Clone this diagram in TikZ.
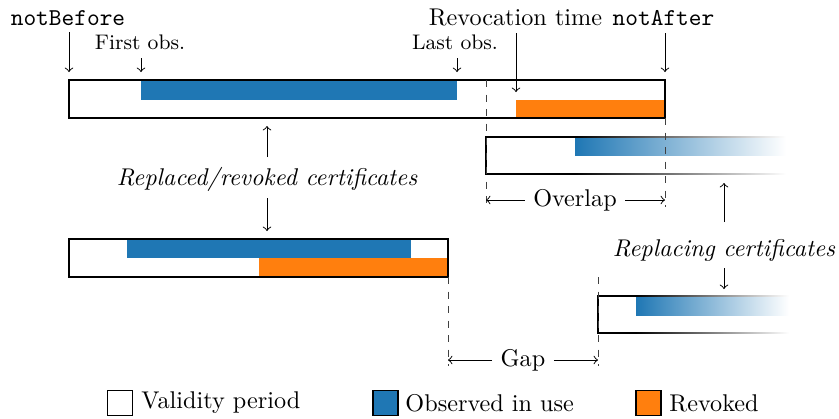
\documentclass[tikz,border=0pt]{standalone}
\definecolor{obsblue}{HTML}{1F77B4}
\definecolor{revorange}{HTML}{FF7F0E}
\begin{document}
\begin{tikzpicture}[x=0.413pt,y=-0.413pt,
  arr/.style={->, line width=0.4pt},
  period/.style={draw=black, line width=0.45pt},
  edge/.style={line width=0.45pt},
  gapline/.style={dashed, line width=0.4pt, black!75},
  lbl/.style={font=\normalsize},
  small/.style={inner sep=0pt, font=\fontsize{8.7}{10}\selectfont},
  legendbox/.style={draw=black, line width=0.45pt, minimum width=25*0.413pt, minimum height=25*0.413pt, inner sep=0pt},
]
\useasboundingbox (0,0) rectangle (839,418);

% ---- replaced certificate (overlap case) ----
\fill[obsblue] (141,80) rectangle (457,99.5);
\fill[revorange] (516,99.5) rectangle (665,118);
\draw[period] (69,80) rectangle (665,118);
\coordinate (c1a) at (486,80);
\coordinate (c1b) at (665,118);

% labels and pointers above it
\node[anchor=base, inner sep=0pt] (nb) at (68,25) {\texttt{notBefore}};
\node[anchor=base, inner sep=0pt] (rt) at (515.5,25) {Revocation time};
\node[anchor=base, inner sep=0pt] (na) at (663.5,25) {\texttt{notAfter}};
\node[small, anchor=base] (fo) at (140,49) {First obs.};
\node[small, anchor=base] (lo) at (455,49) {Last obs.};
\coordinate (nbt) at (69,72);
\coordinate (rtt) at (516,92);
\coordinate (nat) at (665,72);
\coordinate (fot) at (141,72);
\coordinate (lot) at (457,72);
\draw[arr] (69,32) -- (nbt);
\draw[arr] (516,33) -- (rtt);
\draw[arr] (665,33) -- (nat);
\draw[arr] (141,58) -- (fot);
\draw[arr] (457,58) -- (lot);

% ---- replacing certificate (overlap case), fading out to the right ----
\shade[left color=obsblue, right color=white] (575,137) rectangle (786,155.5);
\draw[edge] (575,137) -- (486,137) -- (486,174) -- (575,174);
\shade[left color=black, right color=white] (575,136.45) rectangle (786,137.55);
\shade[left color=black, right color=white] (575,173.45) rectangle (786,174.55);

% overlap marker
\draw[gapline] (c1a) -- (486,207);
\draw[gapline] (c1b) -- (665,207);
\node[lbl] (ov) at (575,200) {Overlap};
\draw[arr] (ov.west) -- (486,200);
\draw[arr] (ov.east) -- (665,200);

% ---- replaced certificate (gap case) ----
\fill[obsblue] (127,239) rectangle (411,258);
\fill[revorange] (259,258) rectangle (448,277);
\draw[period] (69,239) rectangle (448,277);

% ---- replacing certificate (gap case) ----
\shade[left color=obsblue, right color=white] (636,296) rectangle (789,315);
\draw[edge] (636,296) -- (598,296) -- (598,333) -- (636,333);
\shade[left color=black, right color=white] (636,295.45) rectangle (789,296.55);
\shade[left color=black, right color=white] (636,332.45) rectangle (789,333.55);

% gap marker
\draw[gapline] (448,277) -- (448,366);
\draw[gapline] (598,277) -- (598,366);
\node[lbl] (gp) at (523,360) {Gap};
\draw[arr] (gp.west) -- (448,360);
\draw[arr] (gp.east) -- (598,360);

% ---- group labels ----
\node[lbl, font=\itshape] (rr) at (267,179) {Replaced/revoked certificates};
\coordinate (rrt) at (267,126);
\coordinate (rrb) at (267,231);
\draw[arr] (267,157) -- (rrt);
\draw[arr] (267,198) -- (rrb);

\node[lbl, font=\itshape] (rp) at (724,250) {Replacing certificates};
\coordinate (rpt) at (724,183);
\coordinate (rpb) at (724,289);
\draw[arr] (724,222) -- (rpt);
\draw[arr] (724,268) -- (rpb);

% ---- legend ----
\node[legendbox, fill=white] (l1) at (120,403) {};
\node[anchor=west, inner sep=0pt] (t1) at (141,403) {Validity period};
\node[legendbox, fill=obsblue] (l2) at (385.5,403) {};
\node[anchor=west, inner sep=0pt] (t2) at (405,403) {Observed in use};
\node[legendbox, fill=revorange] (l3) at (648.5,403) {};
\node[anchor=west, inner sep=0pt] (t3) at (669,403) {Revoked};
\end{tikzpicture}
\end{document}
